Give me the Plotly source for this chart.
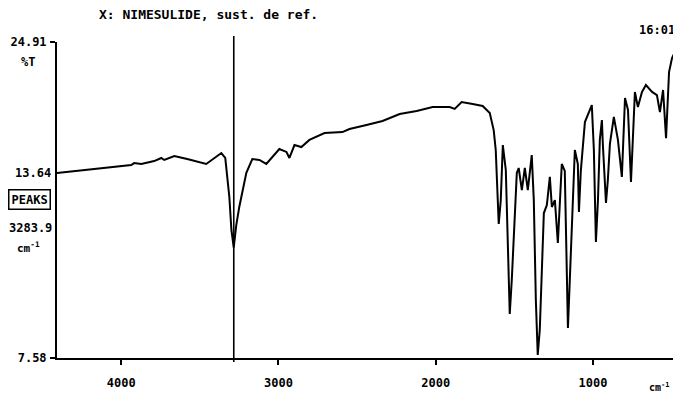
import plotly.graph_objects as go

# IR spectrum (wavenumber cm-1, %T)
wavenumber = [4408, 4216, 4000, 3936, 3917, 3872, 3790, 3745, 3726, 3662, 3580, 3490, 3459, 3363, 3338,
              3312, 3299, 3284, 3268, 3249, 3204,
              3166, 3121, 3077, 3013, 2994, 2949, 2930, 2898, 2854, 2803, 2707, 2593, 2548, 2440, 2338,
              2229, 2121, 2019, 1911, 1879, 1835, 1765, 1701, 1656, 1631, 1618, 1605, 1599, 1586, 1573,
              1554, 1542, 1529, 1516, 1497, 1484, 1472, 1452, 1433, 1414, 1389, 1376, 1363, 1351, 1338,
              1325, 1312, 1293, 1274, 1261, 1242, 1223, 1210, 1198, 1179, 1172, 1159, 1147, 1134, 1115,
              1096, 1089, 1077, 1051, 1007, 994, 981, 968, 956, 943, 937, 917, 905, 892, 867,
              841, 816, 796, 777, 758, 733, 714, 688, 663, 624, 593, 574, 554, 535, 516, 497, 478]
transmittance = [17.73, 17.89, 18.11, 18.16, 18.27, 18.22, 18.38, 18.55, 18.44, 18.66, 18.49, 18.27, 18.22, 18.82, 18.55,
                 16.41, 14.60, 13.64, 14.87, 15.86, 17.73,
                 18.49, 18.44, 18.22, 18.82, 19.04, 18.88, 18.55, 19.26, 19.15, 19.54, 19.92, 19.97, 20.14, 20.36, 20.58,
                 20.96, 21.13, 21.34, 21.34, 21.24, 21.62, 21.51, 21.40, 21.02, 20.08, 18.99, 16.24, 14.93, 16.24, 19.26,
                 17.89, 13.50, 9.99, 11.86, 15.70, 17.73, 18.00, 16.79, 18.00, 16.79, 18.71, 16.24, 10.76, 7.75, 9.12,
                 12.95, 15.53, 15.97, 17.51, 15.86, 16.24, 13.89, 16.24, 18.22, 17.84, 15.15, 9.23, 11.86, 15.15, 18.99,
                 18.22, 15.59, 17.84, 20.52, 21.45, 18.99, 13.94, 16.24, 19.54, 20.63, 19.32, 16.08, 17.35, 19.32, 20.80,
                 19.54, 17.51, 21.84, 21.18, 17.23, 22.17, 21.34, 22.17, 22.55, 22.17, 22.00, 21.07, 22.28, 19.64, 23.26,
                 24.03, 24.36]

x_ticks = [4000, 3000, 2000, 1000]
x_ticktext = ["4000", "3000", "2000", "1000"]
y_ticks = [7.58, 24.91]
y_ticktext = ["7.58", "24.91"]
peak_wn = 3283.9
peak_t = 13.64
title_text = "X: NIMESULIDE, sust. de ref."
time_text = "16:01"

FONT = "DejaVu Sans Mono"
OFF = 8  # page body margin
W, H = 681 - OFF, 403 - OFF
# plot area in page pixels: left 57, right 678, top 42, bottom 358
L, R, T, B = 57 - OFF, 681 - 678, 42 - OFF, 403 - 358
pw, ph = W - L - R, H - T - B


def px(x):
    return (x - OFF - L) / pw


def py(y):
    return (H + OFF - B - y) / ph


fig = go.Figure()
fig.add_trace(go.Scatter(x=wavenumber, y=transmittance, mode="lines",
                         line=dict(color="black", width=2), hoverinfo="skip"))

# peak marker line
fig.add_shape(type="line", xref="x", yref="paper", x0=peak_wn, x1=peak_wn,
              y0=py(362), y1=py(36), line=dict(color="black", width=1.6))

ann = [
    dict(text=title_text, x=px(97), y=py(15), xanchor="left", font_size=13),
    dict(text=time_text, x=px(677), y=py(30), xanchor="right", font_size=12),
    dict(text="%T", x=px(28), y=py(62), xanchor="center", font_size=12),
    dict(text=f"{peak_t:.2f}", x=px(53), y=py(173), xanchor="right", font_size=12),
    dict(text="PEAKS", x=px(29), y=py(199), xanchor="center", font_size=12,
         bordercolor="black", borderwidth=1.5, borderpad=2),
    dict(text=f"{peak_wn:.1f}", x=px(30), y=py(228), xanchor="center", font_size=12),
    dict(text="cm<sup>-1</sup>", x=px(28), y=py(247), xanchor="center", font_size=11),
    dict(text="cm<sup>-1</sup>", x=px(659), y=py(387), xanchor="center", font_size=10),
]
for a in ann:
    a.update(xref="paper", yref="paper", showarrow=False, yanchor="middle")
    a["font"] = dict(family=FONT, color="black", size=a.pop("font_size"), weight="bold")
    fig.add_annotation(**a)

fig.update_layout(
    width=W, height=H,
    margin=dict(l=L, r=R, t=T, b=B),
    paper_bgcolor="white", plot_bgcolor="white",
    showlegend=False,
    font=dict(family=FONT, color="black", size=12),
    xaxis=dict(range=[4408, 459], showgrid=False, zeroline=False,
               showline=True, linecolor="black", linewidth=2,
               ticks="outside", ticklen=5, tickwidth=1.5, tickcolor="black",
               tickvals=x_ticks, ticktext=x_ticktext, ticklabelstandoff=8,
               tickfont=dict(family=FONT, size=12, color="black", weight="bold")),
    yaxis=dict(range=[7.58, 24.91], showgrid=False, zeroline=False,
               showline=True, linecolor="black", linewidth=2,
               ticks="outside", ticklen=5, tickwidth=1.5, tickcolor="black",
               tickvals=y_ticks, ticktext=y_ticktext, ticklabelstandoff=1,
               tickfont=dict(family=FONT, size=12, color="black", weight="bold")),
)

fig.write_html("out.html")
